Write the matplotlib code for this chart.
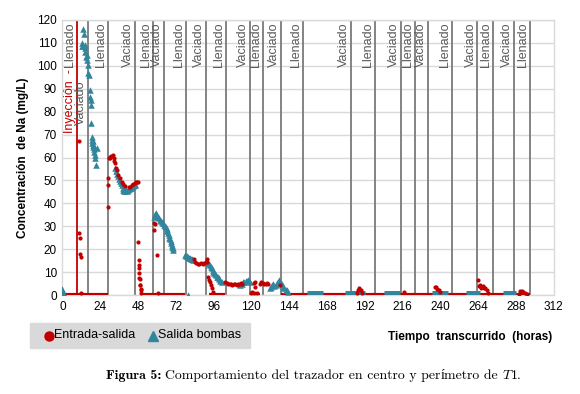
import matplotlib
matplotlib.use("Agg")
import matplotlib.pyplot as plt
from matplotlib.patches import Rectangle
from matplotlib.lines import Line2D

plt.rcParams['font.family'] = ['Liberation Sans', 'DejaVu Sans']
plt.rcParams['mathtext.fontset'] = 'cm'

RED = '#C00000'
TEAL = '#31859C'
LINE_GRAY = '#7a7a7a'
TXT_GRAY = '#595959'

# ---- event lines (hours) and their labels
inyeccion_t = 9.0
event_t = [16.0, 29.1, 46.1, 57.3, 64.7, 78.3, 91.0, 104.1, 119.2, 127.3, 138.7,
           153.1, 183.2, 198.5, 215.0, 224.1, 232.2, 247.6, 263.7, 273.5, 286.6, 297.0]
event_lbl = ['Vaciado', 'Llenado', 'Vaciado', 'Llenado', 'Vaciado', 'Llenado',
             'Vaciado', 'Llenado', 'Vaciado', 'Llenado', 'Vaciado', 'Llenado',
             'Vaciado', 'Llenado', 'Vaciado', 'Llenado', 'Vaciado', 'Llenado',
             'Vaciado', 'Llenado', 'Vaciado', 'Llenado']

# ---- Entrada-salida (red), points off the zero baseline
red_t = [10.2, 10.3, 11.1, 11.1, 11.8, 11.8,
         28.8, 29.0, 29.2, 29.5, 30.0, 30.5, 31.0, 31.8, 32.5, 33.0, 33.4, 34.0, 34.5,
         35.5, 36.5, 37.6, 38.5, 40.0, 42.0, 43.0, 44.0, 45.0, 46.1, 46.5, 47.3, 48.0,
         48.2, 48.3, 48.4, 48.5, 48.7, 48.8, 49.0, 49.1, 49.3, 49.6, 49.8, 50.0,
         58.2, 58.4, 58.6, 59.9, 60.5,
         83.5, 84.2, 85.0, 86.0, 87.0, 88.0, 89.0, 90.0, 91.0, 91.6, 92.0,
         92.7, 93.2, 93.7, 94.2, 94.8, 95.9,
         103.5, 104.4, 105.3, 106.2, 107.1, 108.0, 108.9, 109.8, 110.7, 111.6, 112.5, 113.4, 114.3,
         119.5, 120.5, 121.5, 121.7, 122.4, 122.4, 123.3,
         125.5, 126.4, 127.3, 128.2, 129.1, 130.0, 130.8, 138.0,
         187.0, 188.0, 188.7, 189.5, 190.5,
         216.7, 236.8, 237.5, 238.2, 239.0, 240.0,
         264.3, 264.6, 265.2, 266.0, 266.5, 267.2, 268.0, 268.6, 269.6, 270.5,
         289.8, 290.8, 291.8, 292.8, 294.0, 295.2]
red_v = [26.9, 67.0, 24.7, 17.9, 16.7, 1.0,
         38.5, 48.0, 51.0, 60.0, 60.3, 60.0, 60.5, 61.0, 60.0, 58.5, 57.5, 55.5, 54.5,
         52.5, 51.0, 49.5, 48.5, 47.5, 47.0, 47.3, 47.8, 48.3, 49.0, 49.2, 49.4, 49.5,
         23.3, 15.3, 13.0, 11.6, 9.7, 7.5, 6.8, 4.2, 4.2, 2.7, 2.0, 1.0,
         31.3, 28.4, 30.8, 17.5, 0.8,
         15.5, 14.5, 14.0, 13.5, 13.5, 13.8, 13.5, 14.0, 14.3, 15.7, 14.5,
         8.0, 6.4, 5.5, 4.4, 2.9, 1.5,
         5.5, 5.1, 5.0, 4.8, 5.0, 4.5, 5.0, 4.8, 4.5, 5.0, 5.0, 5.2, 5.0,
         1.0, 1.5, 1.0, 5.4, 5.8, 3.6, 0.8,
         4.8, 5.5, 5.2, 4.6, 5.0, 5.3, 4.8, 4.4,
         0.8, 2.0, 2.9, 2.2, 1.0,
         1.5, 3.6, 3.4, 2.6, 2.2, 1.2,
         6.5, 4.0, 4.4, 3.2, 3.6, 4.0, 3.2, 2.9, 2.2, 1.0,
         0.5, 1.9, 1.6, 1.3, 0.9, 0.5]

# zero baseline stretches of the red series (start, end in hours)
red_zero_start = [0.5, 50.0, 93.0, 120.0, 139.0]
red_zero_end = [29.0, 78.0, 103.0, 125.5, 297.0]

# ---- Salida bombas (teal)
teal_t = [0.0, 0.3, 0.8,
          12.2, 12.6, 13.2, 13.2, 13.7, 14.0, 14.3, 14.6, 15.0, 15.4, 15.8, 16.0, 16.4,
          17.0, 17.5, 17.5, 17.9, 17.9, 18.2, 18.5, 18.8, 19.0, 19.2, 19.4, 19.6, 19.8,
          20.0, 20.3, 20.5, 20.7, 21.1, 21.7,
          33.4, 34.0, 34.6, 35.2, 35.8, 36.4, 37.0, 37.6, 38.2, 38.7, 39.2, 39.8, 40.4,
          41.0, 41.6, 42.2, 42.9, 43.4, 44.0, 44.6, 45.2, 45.8, 46.2,
          58.2, 58.6, 59.0, 59.4, 60.0, 60.6, 61.2, 61.8, 62.4, 63.0, 63.6, 64.1, 64.6,
          65.2, 65.7, 66.2, 66.7, 67.2, 67.5, 67.9, 68.3, 68.7, 69.0, 69.4, 69.8, 70.1, 70.4,
          80.0,
          77.9, 78.5, 79.0, 79.6, 80.2, 81.0, 81.6, 82.2, 83.2,
          92.7, 93.3, 93.8, 94.3, 94.8, 95.4, 95.9, 96.5, 97.0, 97.5, 98.0, 98.6, 99.2, 99.7, 100.3, 101.2,
          113.0, 114.0, 114.8, 115.6, 116.4, 117.2, 117.8, 118.5, 119.2,
          131.9, 132.6, 133.3, 134.0, 134.7, 135.4, 136.1, 136.8, 137.4, 137.8, 138.4,
          139.3, 140.3, 141.0, 141.8, 142.6, 143.5]
teal_v = [2.5, 1.5, 0.5,
          110.0, 108.5, 116.0, 108.5, 114.0, 109.0, 108.0, 106.0, 104.0, 104.7, 102.5, 100.5, 97.0,
          96.0, 89.5, 86.6, 85.0, 83.0, 74.9, 69.0, 67.6, 66.5, 67.0, 65.5, 64.7, 65.0,
          63.5, 62.5, 61.0, 60.0, 56.7, 64.0,
          55.3, 54.2, 53.0, 51.8, 50.8, 49.8, 48.8, 47.8, 46.8, 46.0, 45.5, 45.5, 45.8,
          45.6, 46.0, 46.4, 46.5, 46.8, 47.2, 47.6, 47.8, 48.0, 48.3,
          34.2, 35.0, 35.5, 35.9, 34.6, 34.0, 33.5, 32.8, 32.2, 31.8, 31.5, 31.3, 30.5,
          30.0, 29.8, 29.0, 28.0, 27.0, 26.2, 25.0, 24.5, 23.5, 22.6, 21.8, 21.0, 20.3, 19.6,
          0.0,
          17.5, 17.2, 17.0, 16.6, 16.3, 16.0, 15.8, 15.6, 15.3,
          13.8, 13.5, 13.1, 12.4, 11.6, 11.0, 10.2, 9.8, 9.2, 8.6, 8.0, 7.8, 7.3, 6.8, 6.2, 5.5,
          4.5, 5.0, 5.5, 5.8, 6.0, 6.2, 6.5, 6.0, 5.5,
          2.9, 3.5, 4.2, 4.8, 3.8, 4.4, 5.2, 5.8, 6.0, 6.5, 5.5,
          5.0, 3.6, 3.0, 2.4, 2.0, 1.5]

# zero stretches of the teal series
teal_zero_start = [155.2, 179.6, 204.0, 234.7, 256.5, 280.2]
teal_zero_end = [165.8, 192.3, 214.6, 245.0, 265.0, 288.3]

x_ticks = list(range(0, 313, 24))
y_ticks = list(range(0, 121, 10))

fig = plt.figure(figsize=(5.8, 3.94), dpi=100)
ax = fig.add_axes([62.5 / 580, 1 - 295 / 394, 491 / 580, 275 / 394])

ax.set_xlim(0, 312)
ax.set_ylim(0, 120)
ax.set_xticks(x_ticks)
ax.set_yticks(y_ticks)
ax.tick_params(length=0, labelsize=8.5, pad=4)
ax.grid(axis='y', color='#d9d9d9', lw=1.0)
ax.set_axisbelow(True)
for s in ax.spines.values():
    s.set_color('#d9d9d9')
    s.set_linewidth(1.0)

# event lines
ax.axvline(inyeccion_t, color=RED, lw=1.3, zorder=2)
for t, lbl in zip(event_t, event_lbl):
    ax.axvline(t, color=LINE_GRAY, lw=1.3, zorder=2)
    y0 = 93.8 if t == event_t[0] else 118.8
    ax.text(t - 0.6, y0, lbl, rotation=90, ha='right', va='top',
            fontsize=9, color=TXT_GRAY, zorder=3)
ax.text(inyeccion_t - 0.6, 118.8, 'Llenado', rotation=90, ha='right', va='top',
        fontsize=9, color=TXT_GRAY, zorder=3)
ax.text(inyeccion_t - 0.6, 98.5, 'Inyección  -', rotation=90, ha='right', va='top',
        fontsize=9, color=RED, zorder=3)

# data
ax.hlines([0] * len(red_zero_start), red_zero_start, red_zero_end,
          color=RED, lw=3.0, zorder=4)
ax.hlines([0.3] * len(teal_zero_start), teal_zero_start, teal_zero_end,
          color=TEAL, lw=5.0, zorder=5)
ax.scatter(teal_t, teal_v, marker='^', s=22, color=TEAL, lw=0, zorder=5)
ax.scatter(red_t, red_v, marker='o', s=9, color=RED, lw=0, zorder=6)

ax.set_ylabel('Concentración  de Na (mg/L)', fontsize=8.5, fontweight='bold', labelpad=6)

# legend box
fig.patches.append(Rectangle((30 / 580, 1 - 348 / 394), 220 / 580, 25 / 394,
                             transform=fig.transFigure, color='#d9d9d9', zorder=0))
fig.add_artist(Line2D([49 / 580], [1 - 335.5 / 394], marker='o', ms=6.5, color=RED,
                      transform=fig.transFigure))
fig.text(54 / 580, 1 - 335.5 / 394, 'Entrada-salida', fontsize=9, va='center')
fig.add_artist(Line2D([153 / 580], [1 - 335.5 / 394], marker='^', ms=6.5, color=TEAL,
                      transform=fig.transFigure))
fig.text(158 / 580, 1 - 335.5 / 394, 'Salida bombas', fontsize=9, va='center')

fig.text(552 / 580, 1 - 337 / 394, 'Tiempo  transcurrido  (horas)', fontsize=8.5,
         fontweight='bold', ha='right', va='center')

# caption, built from pieces so the accent comes from a font that has it
cap_y = 1 - 379 / 394
fig.text(106 / 580, cap_y, 'Figura 5:', family='cmb10', fontsize=10, va='baseline')
pieces = [('Comportamiento del trazador en centro y per', 'cmr10'),
          ('í', 'Liberation Serif'),
          ('metro de ', 'cmr10'),
          ('$T$1.', 'cmr10')]
renderer = fig.canvas.get_renderer()
x = 165.0
for txt, fam in pieces:
    t = fig.text(x / 580, cap_y, txt, family=fam, fontsize=9.9, va='baseline')
    x += t.get_window_extent(renderer).width

fig.savefig('out.png', dpi=100)
